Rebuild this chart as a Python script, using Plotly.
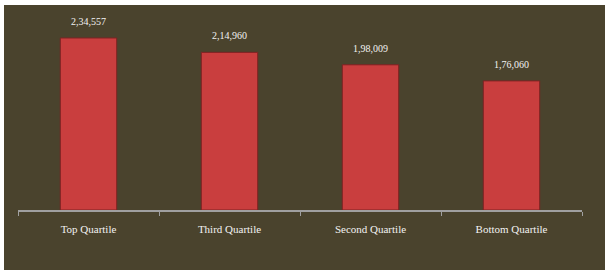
import plotly.graph_objects as go

categories = ["Top Quartile", "Third Quartile", "Second Quartile", "Bottom Quartile"]
values = [234557, 214960, 198009, 176060]


def indian_format(n):
    s = str(int(n))
    if len(s) <= 3:
        return s
    last3 = s[-3:]
    rest = s[:-3]
    groups = []
    while len(rest) > 2:
        groups.insert(0, rest[-2:])
        rest = rest[:-2]
    if rest:
        groups.insert(0, rest)
    return ",".join(groups) + "," + last3


labels = [indian_format(v) for v in values]

BG = "#4a432d"
FONT = "Liberation Serif"

fig = go.Figure()
fig.add_trace(go.Bar(
    x=categories, y=values,
    marker=dict(color="#c93e3e", line=dict(color="#7e2222", width=1)),
    width=0.4,
    hoverinfo="skip",
))

for c, v, t in zip(categories, values, labels):
    fig.add_annotation(x=c, y=v, text=t, showarrow=False, yanchor="bottom",
                       yshift=9, font=dict(family=FONT, size=10, color="#f2f2f2"))

L, R, T, B = 18, 30, 20, 66
W, H = 612, 276
pw = W - L - R
ph = H - T - B
fig.add_shape(type="rect", xref="paper", yref="paper", layer="below",
              x0=(4 - L) / pw, x1=(605 - L) / pw,
              y0=(H - B - 270) / ph, y1=(H - B - 5) / ph,
              fillcolor=BG, line=dict(width=0))

fig.update_layout(
    width=W, height=H,
    margin=dict(l=L, r=R, t=T, b=B, pad=0),
    paper_bgcolor="white",
    plot_bgcolor="rgba(0,0,0,0)",
    showlegend=False,
    xaxis=dict(
        showline=True, linecolor="#a0a0a0", linewidth=1.5,
        ticks="outside", tickson="boundaries", ticklen=4, tickcolor="#a0a0a0",
        tickfont=dict(family=FONT, size=11, color="#f2f2f2"),
        ticklabelstandoff=8,
        showgrid=False, zeroline=False,
    ),
    yaxis=dict(range=[0, 259100], visible=False, showgrid=False, zeroline=False),
)

fig.write_html("out.html")
